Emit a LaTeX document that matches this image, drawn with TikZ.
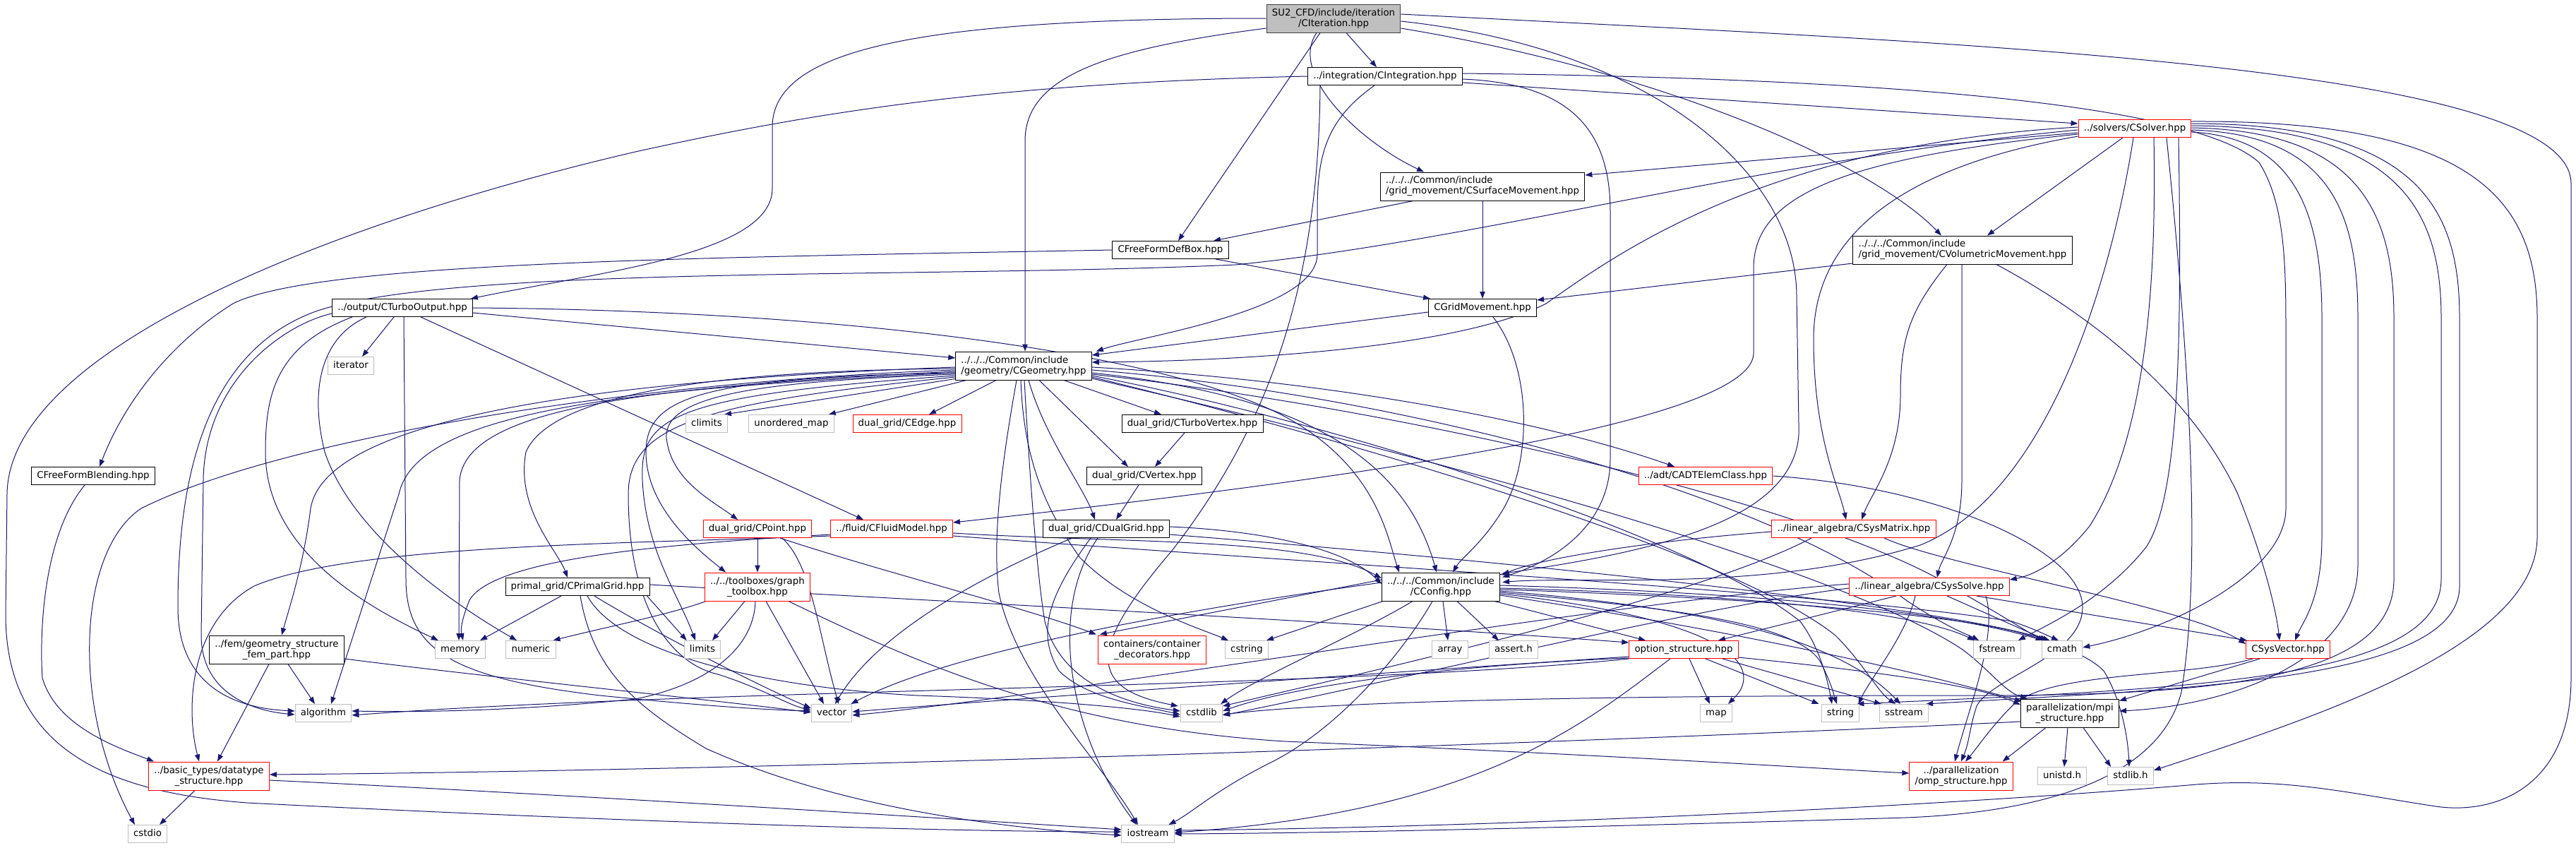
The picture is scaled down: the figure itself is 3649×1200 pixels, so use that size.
\documentclass[tikz,border=0pt]{standalone}
\usepackage{fontspec}
\setmainfont{DejaVu Sans}
\usetikzlibrary{arrows.meta,calc}
\definecolor{mblue}{HTML}{191970}
\definecolor{gborder}{HTML}{BFBFBF}
\definecolor{gfill}{HTML}{BFBFBF}
\pgfdeclarelayer{bg}\pgfsetlayers{bg,main}
\newcommand\nfs{\fontsize{10}{11.25}\selectfont}
\begin{document}
\begin{tikzpicture}[x=0.75pt,y=-0.75pt,
  nbox/.style={draw=black, fill=white, line width=0.75pt, inner xsep=5.8pt, inner ysep=0pt, font=\nfs},
  n1/.style={nbox, text height=7.4pt, text depth=2.2pt, minimum height=18.75pt},
  n2/.style={nbox, align=center, minimum height=30pt},
  kg/.style={draw=gborder},
  kr/.style={draw=red},
  edg/.style={draw=mblue, line width=0.75pt, -{Triangle[length=7.5pt,width=5.5pt]}}]
\begin{pgfonlayer}{bg}
\fill[white] (0,0) rectangle (3649,1200);
\end{pgfonlayer}
\path[use as bounding box] (0,0) rectangle (3649,1200);

% ---------- nodes ----------
\node[n2,fill=gfill,draw=black!75] (cit) at (1889,26) {SU2\_CFD/include/iteration\\/CIteration.hpp};
\node[n1] (cint) at (1962,108) {../integration/CIntegration.hpp};
\node[n1,kr] (csolver) at (3024,182) {../solvers/CSolver.hpp};
\node[n2,align=left] (csm) at (2100,264) {../../../Common/include\\/grid\_movement/CSurfaceMovement.hpp};
\node[n2,align=left] (cvm) at (2780,354) {../../../Common/include\\/grid\_movement/CVolumetricMovement.hpp};
\node[n1] (ffd) at (1658,354) {CFreeFormDefBox.hpp};
\node[n1] (cgrid) at (2100,436) {CGridMovement.hpp};
\node[n1] (cturbo) at (570,436) {../output/CTurboOutput.hpp};
\node[n1,kg] (iterator) at (497,518) {iterator};
\node[n2,align=left] (cgeo) at (1450,518) {../../../Common/include\\/geometry/CGeometry.hpp};
\node[n1,kg] (climits) at (1001,600) {climits};
\node[n1,kg] (umap) at (1121,600) {unordered\_map};
\node[n1,kr] (cedge) at (1285,600) {dual\_grid/CEdge.hpp};
\node[n1] (cturbov) at (1689,600) {dual\_grid/CTurboVertex.hpp};
\node[n1] (ffblend) at (132,674) {CFreeFormBlending.hpp};
\node[n1] (cvertex) at (1621,674) {dual\_grid/CVertex.hpp};
\node[n1,kr] (cadt) at (2416,674) {../adt/CADTElemClass.hpp};
\node[n1,kr] (cpoint) at (1073,749) {dual\_grid/CPoint.hpp};
\node[n1,kr] (cfluid) at (1263,749) {../fluid/CFluidModel.hpp};
\node[n1] (cdual) at (1567,749) {dual\_grid/CDualGrid.hpp};
\node[n1,kr] (csysmat) at (2626,749) {../linear\_algebra/CSysMatrix.hpp};
\node[n1] (cprimal) at (818,831) {primal\_grid/CPrimalGrid.hpp};
\node[n2,kr] (gtool) at (1073,831) {../../toolboxes/graph\\\_toolbox.hpp};
\node[n2] (cconfig) at (2041,831) {../../../Common/include\\/CConfig.hpp};
\node[n1,kr] (csyssolve) at (2733,831) {../linear\_algebra/CSysSolve.hpp};
\node[n2] (fem) at (392,920) {../fem/geometry\_structure\\\_fem\_part.hpp};
\node[n1,kg] (memory) at (652,920) {memory};
\node[n1,kg] (numeric) at (752,920) {numeric};
\node[n1,kg] (limits) at (995,920) {limits};
\node[n2,kr] (contain) at (1632,920) {containers/container\\\_decorators.hpp};
\node[n1,kg] (cstring) at (1766,920) {cstring};
\node[n1,kg] (array) at (2054,920) {array};
\node[n1,kg] (asserth) at (2144,920) {assert.h};
\node[n1,kr] (optstr) at (2385,920) {option\_structure.hpp};
\node[n1,kg] (fstream) at (2829,920) {fstream};
\node[n1,kg] (cmath) at (2921,920) {cmath};
\node[n1,kr] (csysvec) at (3241,920) {CSysVector.hpp};
\node[n1,kg] (algorithm) at (458,1010) {algorithm};
\node[n1,kg] (vector) at (1178,1010) {vector};
\node[n1,kg] (cstdlib) at (1702,1010) {cstdlib};
\node[n1,kg] (map) at (2431,1010) {map};
\node[n1,kg] (string) at (2607,1010) {string};
\node[n1,kg] (sstream) at (2697,1010) {sstream};
\node[n2] (mpi) at (2932,1010) {parallelization/mpi\\\_structure.hpp};
\node[n2,kr] (datatype) at (296,1099) {../basic\_types/datatype\\\_structure.hpp};
\node[n2,kr] (omp) at (2778,1099) {../parallelization\\/omp\_structure.hpp};
\node[n1,kg] (unistd) at (2921,1099) {unistd.h};
\node[n1,kg] (stdlibh) at (3018,1099) {stdlib.h};
\node[n1,kg] (cstdio) at (209,1181) {cstdio};
\node[n1,kg] (iostream) at (1626,1181) {iostream};

% ---------- edges ----------
\begin{pgfonlayer}{bg}
% CIteration
\draw[edg] ($(cit.south)+(18,0)$) -- ($(cint.north)+(-12,0)$);
\draw[edg] ($(cit.south)+(-19,0)$) -- ($(ffd.north)+(11,0)$);
\draw[edg] ($(cit.south)+(-24,0)$) .. controls (1825,105) and (1925,200) .. ($(csm.north)+(-83,0)$);
\draw[edg] ($(cit.west)+(0,14)$) .. controls (1560,70) and (1452,110) .. (1452,200) -- ($(cgeo.north)+(2,0)$);
\draw[edg] (cit.west) .. controls (1300,26) and (1094,70) .. (1094,180) -- (1094,267) .. controls (1094,360) and (850,385) .. ($(cturbo.north east)+(-3,0)$);
\draw[edg] ($(cit.east)+(0,14)$) .. controls (2350,100) and (2650,230) .. ($(cvm.north)+(-30,0)$);
\draw[edg] ($(cit.east)+(0,4)$) .. controls (2350,70) and (2545,250) .. (2545,420) -- (2548,600) .. controls (2556,735) and (2350,780) .. ($(cconfig.north east)+(2,2)$);
\draw[edg] ($(cit.east)+(0,-6)$) .. controls (2750,60) and (3642,90) .. (3642,260) -- (3642,960) .. controls (3642,1110) and (3540,1155) .. (3450,1142) .. controls (3320,1122) and (3230,1100) .. (3100,1112) .. controls (2700,1145) and (2100,1172) .. ($(iostream.east)+(0,-5)$);
% CIntegration
\draw[edg] ($(cint.east)+(0,9)$) -- ($(csolver.west)+(0,-7)$);
\draw[edg] ($(cint.south)+(-15,0)$) .. controls (1878,170) and (1866,220) .. (1866,300) -- (1866,360) .. controls (1866,440) and (1620,475) .. ($(cgeo.north east)+(6,0)$);
\draw[edg] ($(cint.east)+(0,4)$) .. controls (2220,118) and (2281,180) .. (2281,300) -- (2281,650) .. controls (2281,745) and (2200,795) .. ($(cconfig.north east)+(3,7)$);
\draw[edg] (cint.west) .. controls (1400,118) and (1150,160) .. (900,215) .. controls (450,320) and (12,500) .. (10,700) -- (8,870) .. controls (8,1060) and (150,1122) .. (350,1137) .. controls (800,1160) and (1300,1178) .. ($(iostream.west)+(0,-3)$);
\draw[edg] ($(cint.south)+(-92,0)$) .. controls (1868,400) and (1800,600) .. (1660,780) .. controls (1540,920) and (1540,975) .. ($(cstdlib.north west)+(-3,3)$);
\draw[edg] ($(cint.east)+(0,-4)$) .. controls (2600,110) and (3100,140) .. (3200,230) .. controls (3238,290) and (3238,380) .. (3238,480) -- (3238,720) .. controls (3238,810) and (3080,890) .. ($(cmath.east)+(0,-3)$);
% CSolver
\draw[edg] ($(csolver.south)+(-17,0)$) -- ($(cvm.north)+(35,0)$);
\draw[edg] ($(csolver.west)+(0,6)$) -- ($(csm.east)+(0,-16)$);
\draw[edg] ($(csolver.west)+(0,-2)$) .. controls (2500,205) and (2290,360) .. (2190,430) .. controls (2050,500) and (1700,512) .. ($(cgeo.east)+(0,-5)$);
\draw[edg] ($(csolver.west)+(0,2)$) .. controls (2500,225) and (2100,340) .. (1750,375) .. controls (1300,395) and (650,375) .. (450,440) .. controls (280,500) and (252,700) .. (252,860) .. controls (252,970) and (330,1003) .. ($(algorithm.west)+(0,-3)$);
\draw[edg] ($(csolver.west)+(0,8)$) .. controls (2600,225) and (2484,280) .. (2484,380) -- (2484,500) .. controls (2484,600) and (1900,680) .. ($(cfluid.east)+(0,-9)$);
\draw[edg] ($(csolver.west)+(0,11)$) .. controls (2700,235) and (2569,330) .. (2569,480) .. controls (2569,620) and (2605,690) .. ($(csysmat.north)+(-11,0)$);
\draw[edg] ($(csolver.south)+(-2,0)$) .. controls (2990,400) and (2900,700) .. (2720,772) .. controls (2500,840) and (2250,815) .. ($(cconfig.north east)+(3,14)$);
\draw[edg] ($(csolver.south)+(27,0)$) .. controls (3055,400) and (3040,620) .. (2960,745) .. controls (2920,795) and (2880,815) .. ($(csyssolve.east)+(0,-10)$);
\draw[edg] ($(csolver.south)+(62,0)$) .. controls (3090,450) and (3090,700) .. (3040,775) .. controls (2980,850) and (2900,885) .. ($(fstream.north east)+(-4,0)$);
\draw[edg] ($(csolver.south)+(45,0)$) .. controls (3100,500) and (3120,800) .. (3090,980) .. controls (3060,1100) and (2900,1150) .. (2700,1158) .. controls (2300,1170) and (1900,1180) .. (iostream.east);
\draw[edg] ($(csolver.east)+(0,5)$) .. controls (3250,195) and (3289,300) .. (3289,450) -- (3289,760) .. controls (3289,850) and (3262,880) .. ($(csysvec.north)+(10,0)$);
\draw[edg] ($(csolver.east)+(0,2)$) .. controls (3300,190) and (3340,300) .. (3340,450) -- (3340,800) .. controls (3340,940) and (3150,1000) .. ($(mpi.east)+(0,-3)$);
\draw[edg] ($(csolver.east)+(0,-1)$) .. controls (3340,185) and (3391,300) .. (3391,450) -- (3391,820) .. controls (3391,960) and (3150,985) .. (2800,985) .. controls (2300,985) and (1900,992) .. ($(cstdlib.east)+(0,2)$);
\draw[edg] ($(csolver.east)+(0,-4)$) .. controls (3400,180) and (3458,300) .. (3458,450) -- (3458,820) .. controls (3458,965) and (3100,975) .. ($(string.north east)+(-4,0)$);
\draw[edg] ($(csolver.east)+(0,-7)$) .. controls (3430,175) and (3484,300) .. (3484,450) -- (3484,830) .. controls (3484,965) and (3100,975) .. ($(sstream.north east)+(-4,0)$);
\draw[edg] ($(csolver.east)+(0,-10)$) .. controls (3500,170) and (3594,280) .. (3594,450) -- (3594,760) .. controls (3594,910) and (3300,1010) .. ($(stdlibh.east)+(0,-8)$);
% CSurfaceMovement
\draw[edg] (csm) -- (cgrid);
\draw[edg] ($(csm.south)+(-98,0)$) -- ($(ffd.north)+(61,0)$);
% CVolumetricMovement
\draw[edg] ($(cvm.west)+(0,19)$) -- ($(cgrid.east)+(0,-11)$);
\draw[edg] ($(cvm.south)+(-22,0)$) .. controls (2705,440) and (2692,480) .. (2692,560) .. controls (2692,650) and (2650,700) .. ($(csysmat.north)+(11,0)$);
\draw[edg] ($(cvm.south)+(-1,0)$) -- (2779,680) .. controls (2779,760) and (2750,790) .. ($(csyssolve.north)+(11,0)$);
\draw[edg] ($(cvm.south)+(48,0)$) .. controls (2950,440) and (3100,550) .. (3170,700) .. controls (3210,800) and (3225,870) .. ($(csysvec.north)+(-12,0)$);
% CFreeFormDefBox
\draw[edg] (ffd.west) .. controls (1000,365) and (450,370) .. (330,430) .. controls (250,480) and (180,560) .. ($(ffblend.north)+(9,0)$);
\draw[edg] ($(ffd.south)+(64,0)$) -- ($(cgrid.north west)+(3,0)$);
% CGridMovement
\draw[edg] ($(cgrid.west)+(0,6)$) -- ($(cgeo.east)+(0,-15)$);
\draw[edg] ($(cgrid.south)+(15,0)$) .. controls (2170,520) and (2170,650) .. (2130,720) .. controls (2100,770) and (2070,790) .. ($(cconfig.north)+(17,0)$);
% CTurboOutput
\draw[edg] ($(cturbo.south)+(-12,0)$) -- ($(iterator.north)+(16,0)$);
\draw[edg] ($(cturbo.east)+(0,7)$) -- ($(cgeo.west)+(0,-11)$);
\draw[edg] (cturbo.east) .. controls (1200,440) and (1650,500) .. (1820,590) .. controls (1950,660) and (1965,760) .. ($(cconfig.north)+(-59,0)$);
\draw[edg] ($(cturbo.south)+(26,0)$) -- ($(cfluid.north)+(-40,0)$);
\draw[edg] ($(cturbo.south)+(2,0)$) -- (575,820) .. controls (575,920) and (640,960) .. (850,985) .. controls (1000,1000) and (1080,1005) .. ($(vector.west)+(0,-3)$);
\draw[edg] ($(cturbo.south)+(-51,0)$) .. controls (450,480) and (440,560) .. (460,640) .. controls (500,760) and (650,860) .. ($(numeric.north)+(-20,0)$);
\draw[edg] ($(cturbo.south)+(-71,0)$) .. controls (390,490) and (376,560) .. (376,640) .. controls (376,780) and (520,860) .. ($(memory.north west)+(5,0)$);
\draw[edg] ($(cturbo.west)+(0,8)$) .. controls (400,460) and (290,540) .. (288,680) -- (285,900) .. controls (285,970) and (340,1005) .. ($(algorithm.west)+(0,2)$);
% CGeometry bottom
\draw[edg] ($(cgeo.south west)+(0,-2)$) -- ($(climits.north east)+(-5,0)$);
\draw[edg] ($(cgeo.south)+(-81,0)$) -- ($(umap.north east)+(-8,0)$);
\draw[edg] ($(cgeo.south)+(-39,0)$) -- ($(cedge.north)+(31,0)$);
\draw[edg] ($(cgeo.south)+(57,0)$) -- ($(cturbov.north)+(-44,0)$);
\draw[edg] ($(cgeo.south)+(22,0)$) -- ($(cvertex.north)+(-23,0)$);
\draw[edg] ($(cgeo.south)+(7,0)$) .. controls (1480,620) and (1535,690) .. ($(cdual.north)+(-16,0)$);
\draw[edg] ($(cgeo.south)+(-10,0)$) .. controls (1420,650) and (1405,760) .. (1415,840) .. controls (1440,960) and (1560,1080) .. ($(iostream.north)+(-14,0)$);
\draw[edg] ($(cgeo.south)+(-4,0)$) .. controls (1450,650) and (1480,720) .. (1530,790) .. controls (1600,860) and (1700,890) .. ($(cstring.north west)+(5,0)$);
\draw[edg] ($(cgeo.south)+(1,0)$) .. controls (1460,700) and (1470,820) .. (1480,880) .. controls (1500,960) and (1580,995) .. ($(cstdlib.west)+(0,-3)$);
% CGeometry left
\draw[edg] ($(cgeo.west)+(0,12)$) .. controls (1100,540) and (940,555) .. (944,620) .. controls (950,680) and (1010,710) .. ($(cpoint.north)+(-28,0)$);
\draw[edg] ($(cgeo.west)+(0,10)$) .. controls (1000,535) and (915,560) .. (915,640) .. controls (915,720) and (990,780) .. ($(gtool.north)+(-45,0)$);
\draw[edg] ($(cgeo.west)+(0,4)$) .. controls (1000,525) and (780,560) .. (745,640) .. controls (730,720) and (790,780) .. ($(cprimal.north)+(-14,0)$);
\draw[edg] ($(cgeo.west)+(0,6)$) .. controls (900,540) and (400,620) .. (200,720) .. controls (110,780) and (100,1000) .. ($(cstdio.north west)+(10,0)$);
\draw[edg] ($(cgeo.west)+(0,2)$) .. controls (800,540) and (460,600) .. (440,720) .. controls (430,800) and (410,860) .. ($(fem.north)+(7,0)$);
\draw[edg] ($(cgeo.west)+(0,8)$) .. controls (900,548) and (660,580) .. (651,680) -- ($(memory.north)+(-2,0)$);
\draw[edg] ($(cgeo.west)+(0,10)$) .. controls (900,550) and (590,580) .. (565,700) -- ($(algorithm.north)+(11,0)$);
\draw[edg] ($(cgeo.west)+(0,14)$) .. controls (950,560) and (906,590) .. (910,680) .. controls (915,780) and (960,840) .. ($(limits.north)+(-10,0)$);
\draw[edg] ($(cgeo.west)+(0,16)$) .. controls (1000,570) and (890,600) .. (890,700) .. controls (890,860) and (950,940) .. (1017,955) .. controls (1080,975) and (1120,1000) .. ($(vector.west)+(0,-5)$);
% CGeometry right
\draw[edg] ($(cgeo.east)+(0,2)$) .. controls (1900,540) and (2200,600) .. ($(cadt.north)+(-44,0)$);
\draw[edg] ($(cgeo.east)+(0,10)$) .. controls (1850,560) and (1990,650) .. ($(cconfig.north)+(-6,0)$);
\draw[edg] ($(cgeo.east)+(0,6)$) .. controls (2000,560) and (2500,700) .. (2700,850) .. controls (2760,890) and (2790,900) .. ($(fstream.north west)+(8,0)$);
\draw[edg] ($(cgeo.east)+(0,12)$) .. controls (2000,580) and (2600,720) .. (2780,840) .. controls (2850,880) and (2880,900) .. ($(cmath.north west)+(5,0)$);
\draw[edg] ($(cgeo.east)+(0,14)$) .. controls (1900,600) and (2400,760) .. (2550,880) .. controls (2580,920) and (2590,970) .. ($(string.north)+(-12,0)$);
\draw[edg] ($(cgeo.east)+(0,16)$) .. controls (1900,620) and (2450,780) .. (2600,900) .. controls (2640,940) and (2660,980) .. ($(sstream.north)+(-12,0)$);
\draw[edg] ($(cgeo.east)+(0,18)$) .. controls (2000,640) and (2600,800) .. (2780,920) .. controls (2820,950) and (2840,980) .. ($(mpi.north west)+(10,0)$);
% dual grid chain
\draw[edg] ($(cturbov.south)+(-11,0)$) -- ($(cvertex.north)+(15,0)$);
\draw[edg] ($(cvertex.south)+(-8,0)$) -- ($(cdual.north)+(14,0)$);
% CPoint
\draw[edg] (cpoint) -- (gtool);
\draw[edg] ($(cpoint.south)+(32,0)$) .. controls (1250,810) and (1450,860) .. ($(contain.north west)+(-2,-1)$);
\draw[edg] ($(cpoint.south)+(35,0)$) .. controls (1150,800) and (1160,900) .. ($(vector.north)+(10,0)$);
% CFluidModel
\draw[edg] ($(cfluid.east)+(0,6)$) .. controls (1600,770) and (1850,760) .. ($(cconfig.west)+(0,-12)$);
\draw[edg] ($(cfluid.west)+(0,10)$) .. controls (900,770) and (500,770) .. (360,830) .. controls (270,880) and (262,1000) .. ($(datatype.north)+(-14,0)$);
\draw[edg] ($(cfluid.west)+(0,8)$) .. controls (950,770) and (700,790) .. (665,850) .. controls (655,875) and (652,890) .. ($(memory.north)+(4,0)$);
\draw[edg] ($(cfluid.east)+(0,10)$) .. controls (1900,800) and (2600,840) .. (2850,880) .. controls (2880,890) and (2900,900) .. ($(cmath.north)+(-5,0)$);
% CDualGrid
\draw[edg] ($(cdual.east)+(0,-3)$) .. controls (1760,750) and (1900,770) .. ($(cconfig.west)+(0,-4)$);
\draw[edg] ($(cdual.south)+(-48,0)$) .. controls (1380,820) and (1240,900) .. ($(vector.north)+(5,0)$);
\draw[edg] ($(cdual.south)+(-22,0)$) .. controls (1480,850) and (1470,900) .. (1500,950) .. controls (1540,990) and (1620,1000) .. ($(cstdlib.west)+(0,2)$);
\draw[edg] ($(cdual.south)+(-12,0)$) .. controls (1480,870) and (1520,1050) .. ($(iostream.north)+(-16,0)$);
\draw[edg] ($(cdual.east)+(0,8)$) .. controls (2200,800) and (2750,860) .. ($(cmath.north west)+(12,0)$);
% CPrimalGrid
\draw[edg] ($(cprimal.south)+(-23,0)$) -- ($(memory.north east)+(-8,0)$);
\draw[edg] ($(cprimal.south east)+(-4,0)$) -- ($(limits.north west)+(4,0)$);
\draw[edg] ($(cprimal.south)+(24,0)$) .. controls (900,880) and (1050,960) .. ($(vector.west)+(0,-7)$);
\draw[edg] ($(cprimal.south)+(14,0)$) .. controls (880,930) and (1100,975) .. (1300,985) .. controls (1450,990) and (1600,1000) .. ($(cstdlib.west)+(0,5)$);
\draw[edg] ($(cprimal.south)+(4,0)$) .. controls (840,950) and (900,1000) .. (1000,1060) .. controls (1200,1150) and (1450,1175) .. ($(iostream.west)+(0,2)$);
\draw[edg] ($(cprimal.east)+(0,-3)$) .. controls (1300,850) and (1900,880) .. ($(optstr.west)+(0,-10)$);
% graph toolbox
\draw[edg] ($(gtool.south)+(-18,0)$) -- ($(limits.north)+(14,0)$);
\draw[edg] ($(gtool.south)+(12,0)$) -- ($(vector.north)+(-11,0)$);
\draw[edg] ($(gtool.south)+(-3,0)$) .. controls (1068,920) and (1000,970) .. (900,990) .. controls (700,1010) and (560,1008) .. ($(algorithm.east)+(0,-3)$);
\draw[edg] ($(gtool.south west)+(2,0)$) .. controls (950,870) and (850,890) .. ($(numeric.north east)+(-4,0)$);
\draw[edg] ($(gtool.south)+(44,0)$) .. controls (1300,940) and (1500,1030) .. (1820,1050) .. controls (2300,1070) and (2600,1090) .. ($(omp.west)+(0,-4)$);
% fem
\draw[edg] ($(fem.south)+(-11,0)$) -- ($(datatype.north)+(12,0)$);
\draw[edg] ($(fem.south)+(16,0)$) -- ($(algorithm.north)+(-12,0)$);
\draw[edg] ($(fem.east)+(0,13)$) .. controls (700,960) and (1000,990) .. ($(vector.west)+(0,-1)$);
% CFreeFormBlending
\draw[edg] ($(ffblend.south)+(-12,0)$) .. controls (60,760) and (56,900) .. (60,960) .. controls (80,1030) and (170,1060) .. ($(datatype.north west)+(8,0)$);
% CConfig
\draw[edg] ($(cconfig.south)+(3,0)$) -- ($(array.north)+(-3,0)$);
\draw[edg] ($(cconfig.south)+(23,0)$) -- ($(asserth.north)+(-21,0)$);
\draw[edg] ($(cconfig.south)+(76,0)$) -- ($(optstr.north)+(-54,0)$);
\draw[edg] ($(cconfig.west)+(0,-10)$) -- ($(contain.north west)+(3,-1)$);
\draw[edg] ($(cconfig.west)+(0,-6)$) .. controls (1700,860) and (1350,920) .. ($(vector.north east)+(-2,0)$);
\draw[edg] ($(cconfig.south west)+(2,0)$) -- ($(cstring.north east)+(-3,0)$);
\draw[edg] ($(cconfig.south)+(-40,0)$) .. controls (1920,900) and (1780,960) .. ($(cstdlib.north east)+(-3,0)$);
\draw[edg] ($(cconfig.south)+(-12,0)$) .. controls (1990,920) and (1900,1030) .. (1800,1080) .. controls (1720,1120) and (1690,1150) .. ($(iostream.north east)+(-8,0)$);
\draw[edg] ($(cconfig.east)+(0,10)$) .. controls (2300,860) and (2470,900) .. (2470,960) .. controls (2470,975) and (2460,985) .. ($(map.north)+(17,0)$);
\draw[edg] ($(cconfig.east)+(0,8)$) .. controls (2350,860) and (2550,880) .. (2580,940) .. controls (2595,970) and (2598,985) .. ($(string.north)+(-5,0)$);
\draw[edg] ($(cconfig.east)+(0,6)$) .. controls (2400,860) and (2600,900) .. ($(sstream.north)+(-5,0)$);
\draw[edg] ($(cconfig.east)+(0,2)$) .. controls (2400,840) and (2700,860) .. ($(fstream.north west)+(2,0)$);
\draw[edg] ($(cconfig.east)+(0,4)$) .. controls (2450,845) and (2800,870) .. ($(cmath.north west)+(2,0)$);
\draw[edg] ($(cconfig.east)+(0,-2)$) .. controls (2500,840) and (2900,870) .. (2980,950) .. controls (3010,1000) and (3015,1060) .. ($(stdlibh.north)+(-2,0)$);
\draw[edg] ($(cconfig.east)+(0,12)$) .. controls (2500,900) and (2750,960) .. ($(mpi.north west)+(2,4)$);
% option_structure
\draw[edg] ($(optstr.south)+(8,0)$) -- ($(map.north)+(-9,0)$);
\draw[edg] ($(optstr.south)+(31,0)$) -- ($(string.north west)+(-3,0)$);
\draw[edg] ($(optstr.south)+(55,0)$) -- ($(sstream.north west)+(3,0)$);
\draw[edg] ($(optstr.south east)+(0,-2)$) .. controls (2650,950) and (2800,970) .. ($(mpi.west)+(0,-12)$);
\draw[edg] ($(optstr.south)+(-19,0)$) .. controls (2250,1020) and (2100,1150) .. ($(iostream.east)+(0,-2)$);
\draw[edg] ($(optstr.west)+(0,12)$) .. controls (2100,940) and (1850,965) .. ($(cstdlib.east)+(0,-3)$);
\draw[edg] ($(optstr.west)+(0,10)$) .. controls (2000,950) and (1500,985) .. ($(vector.east)+(0,-2)$);
\draw[edg] (optstr.south west) .. controls (1900,975) and (1000,975) .. ($(algorithm.east)+(0,3)$);
% CSysMatrix
\draw[edg] ($(csysmat.west)+(0,4)$) .. controls (2350,765) and (2180,790) .. ($(cconfig.north east)+(3,4)$);
\draw[edg] ($(csysmat.south)+(-60,0)$) .. controls (2400,850) and (1900,960) .. ($(cstdlib.north east)+(0,3)$);
\draw[edg] ($(csysmat.south)+(43,0)$) .. controls (2750,800) and (3100,860) .. ($(csysvec.west)+(0,-8)$);
% CSysSolve
\draw[edg] ($(csyssolve.south)+(25,0)$) -- ($(cmath.north west)+(8,0)$);
\draw[edg] ($(csyssolve.south)+(67,0)$) -- ($(csysvec.north west)+(2,0)$);
\draw[edg] ($(csyssolve.south)+(-47,0)$) -- ($(optstr.north)+(49,0)$);
\draw[edg] ($(csyssolve.west)+(0,2)$) .. controls (2400,860) and (2000,960) .. ($(cstdlib.east)+(0,3)$);
\draw[edg] ($(csyssolve.west)+(0,-4)$) .. controls (2300,850) and (1500,985) .. ($(vector.east)+(0,3)$);
\draw[edg] ($(csyssolve.south)+(80,0)$) .. controls (2830,900) and (2790,1000) .. ($(omp.north)+(-9,0)$);
\draw[edg] ($(csyssolve.south)+(-20,0)$) .. controls (2700,900) and (2650,960) .. ($(string.north east)+(-2,0)$);
% CSysVector
\draw[edg] ($(csysvec.south west)+(20,0)$) -- ($(mpi.north east)+(0,3)$);
\draw[edg] ($(csysvec.south west)+(10,0)$) .. controls (3100,960) and (2900,950) .. (2850,1000) .. controls (2820,1030) and (2800,1060) .. ($(omp.north)+(6,0)$);
% CADTElemClass
\draw[edg] (cadt.east) .. controls (2750,690) and (2950,780) .. (2950,860) .. controls (2950,930) and (2820,960) .. (2800,1000) .. controls (2790,1030) and (2790,1050) .. (omp.north);
% mpi
\draw[edg] ($(mpi.west)+(0,12)$) .. controls (2400,1045) and (1200,1090) .. ($(datatype.east)+(0,-2)$);
\draw[edg] ($(mpi.south)+(-34,0)$) -- ($(omp.north east)+(-15,0)$);
\draw[edg] ($(mpi.south)+(-3,0)$) -- ($(unistd.north)+(3,0)$);
\draw[edg] ($(mpi.south)+(19,0)$) -- ($(stdlibh.north west)+(5,0)$);
% datatype
\draw[edg] ($(datatype.south)+(-20,0)$) -- ($(cstdio.north)+(17,0)$);
\draw[edg] ($(datatype.east)+(0,6)$) .. controls (700,1120) and (1200,1150) .. ($(iostream.west)+(0,-6)$);
\end{pgfonlayer}
\end{tikzpicture}
\end{document}
